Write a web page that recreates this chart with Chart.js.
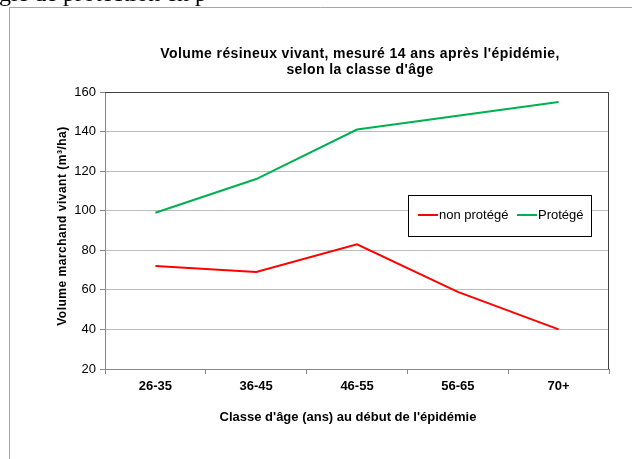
<!DOCTYPE html>
<html lang="fr">
<head>
  <meta charset="UTF-8" />
  <title>Volume résineux vivant</title>
  <script src="https://cdn.jsdelivr.net/npm/chart.js"></script>
  <style>
    html, body {
      margin: 0;
      padding: 0;
      background: #fff;
      overflow: hidden;
    }
    #wrap {
      position: relative;
      width: 632px;
      height: 459px;
    }
    canvas {
      position: absolute;
      left: 0;
      top: 0;
    }
  </style>
</head>
<body>
  <div id="wrap">
    <canvas id="volChart" width="632" height="459"></canvas>
  </div>

  <script>
    const categories = ['26-35', '36-45', '46-55', '56-65', '70+'];
    const nonProtege = [72, 69, 83, 59, 40];
    const protege = [99, 116, 141, 148, 155];
    const yMin = 20, yMax = 160, yStep = 20;

    const titleLines = ["Volume résineux vivant, mesuré 14 ans après l'épidémie,", "selon la classe d'âge"];
    const yTitle = 'Volume marchand vivant (m³/ha)';
    const xTitle = "Classe d'âge (ans) au début de l'épidémie";

    const SANS = '"Liberation Sans", Arial, sans-serif';

    // frame, titles, plot border and the boxed legend
    const decor = {
      id: 'decor',
      beforeDraw(chart) {
        const ctx = chart.ctx;
        ctx.save();
        // page text cut off above the frame
        ctx.fillStyle = '#000';
        ctx.font = '24px "Liberation Serif", "Times New Roman", serif';
        ctx.textBaseline = 'alphabetic';
        ctx.fillText('gle de protection en p', -1, 1);
        // outer frame
        ctx.strokeStyle = '#a6a6a6';
        ctx.lineWidth = 1;
        ctx.beginPath();
        ctx.moveTo(9.5, 459);
        ctx.lineTo(9.5, 7.5);
        ctx.lineTo(632, 7.5);
        ctx.stroke();
        ctx.restore();
      },
      afterDraw(chart) {
        const ctx = chart.ctx;
        const a = chart.chartArea;
        ctx.save();
        // top and right edges of the plot
        ctx.strokeStyle = '#404040';
        ctx.lineWidth = 1;
        ctx.beginPath();
        ctx.moveTo(a.left, Math.round(a.top) + 0.5);
        ctx.lineTo(Math.round(a.right) - 0.5, Math.round(a.top) + 0.5);
        ctx.lineTo(Math.round(a.right) - 0.5, a.bottom);
        ctx.stroke();

        // chart title
        ctx.fillStyle = '#000';
        ctx.textAlign = 'center';
        ctx.textBaseline = 'middle';
        ctx.font = 'bold 14px ' + SANS;
        ctx.letterSpacing = '0.4px';
        ctx.fillText(titleLines[0], 360, 54);
        ctx.fillText(titleLines[1], 360, 70);

        // axis titles
        ctx.letterSpacing = '0px';
        ctx.font = 'bold 13px ' + SANS;
        ctx.fillText(xTitle, 348, 417);
        ctx.save();
        ctx.translate(63, 226);
        ctx.rotate(-Math.PI / 2);
        ctx.font = 'bold 12px ' + SANS;
        ctx.letterSpacing = '0.5px';
        ctx.fillText(yTitle, 0, 0);
        ctx.restore();

        // legend box
        const bx = 408, by = 195, bw = 183, bh = 41;
        ctx.fillStyle = '#fff';
        ctx.fillRect(bx, by, bw, bh);
        ctx.strokeStyle = '#000';
        ctx.lineWidth = 1;
        ctx.strokeRect(bx + 0.5, by + 0.5, bw, bh);
        const ly = 215;
        const items = [
          { x: 418, ds: chart.data.datasets[0] },
          { x: 517, ds: chart.data.datasets[1] }
        ];
        ctx.font = '13px ' + SANS;
        ctx.textAlign = 'left';
        items.forEach(it => {
          ctx.strokeStyle = it.ds.borderColor;
          ctx.lineWidth = 2;
          ctx.beginPath();
          ctx.moveTo(it.x, ly);
          ctx.lineTo(it.x + 20, ly);
          ctx.stroke();
          ctx.fillStyle = '#000';
          ctx.fillText(it.ds.label, it.x + 21, ly);
        });
        ctx.restore();
      }
    };

    new Chart(document.getElementById('volChart').getContext('2d'), {
      type: 'line',
      data: {
        labels: categories,
        datasets: [
          { label: 'non protégé', data: nonProtege, borderColor: '#ff0000', backgroundColor: '#ff0000', borderWidth: 2, pointRadius: 0, tension: 0, fill: false },
          { label: 'Protégé', data: protege, borderColor: '#00b050', backgroundColor: '#00b050', borderWidth: 2, pointRadius: 0, tension: 0, fill: false }
        ]
      },
      options: {
        responsive: false,
        animation: false,
        layout: { padding: { top: 92, right: 23, left: 0, bottom: 0 } },
        plugins: {
          legend: { display: false },
          title: { display: false },
          tooltip: { enabled: false }
        },
        scales: {
          x: {
            offset: true,
            grid: { offset: true, drawOnChartArea: false, color: '#888', tickLength: 5 },
            border: { color: '#888' },
            ticks: {
              color: '#000',
              padding: 5,
              maxRotation: 0,
              font: { family: SANS, size: 13, weight: 'bold' }
            },
            afterFit: s => { s.height = 90; }
          },
          y: {
            min: yMin,
            max: yMax,
            grid: { color: '#bcbcbc', tickColor: '#888', tickLength: 5 },
            border: { color: '#888' },
            ticks: {
              stepSize: yStep,
              color: '#000',
              padding: 4,
              font: { family: SANS, size: 13 }
            },
            afterFit: s => { s.width = 105; }
          }
        }
      },
      plugins: [decor]
    });
  </script>
</body>
</html>
